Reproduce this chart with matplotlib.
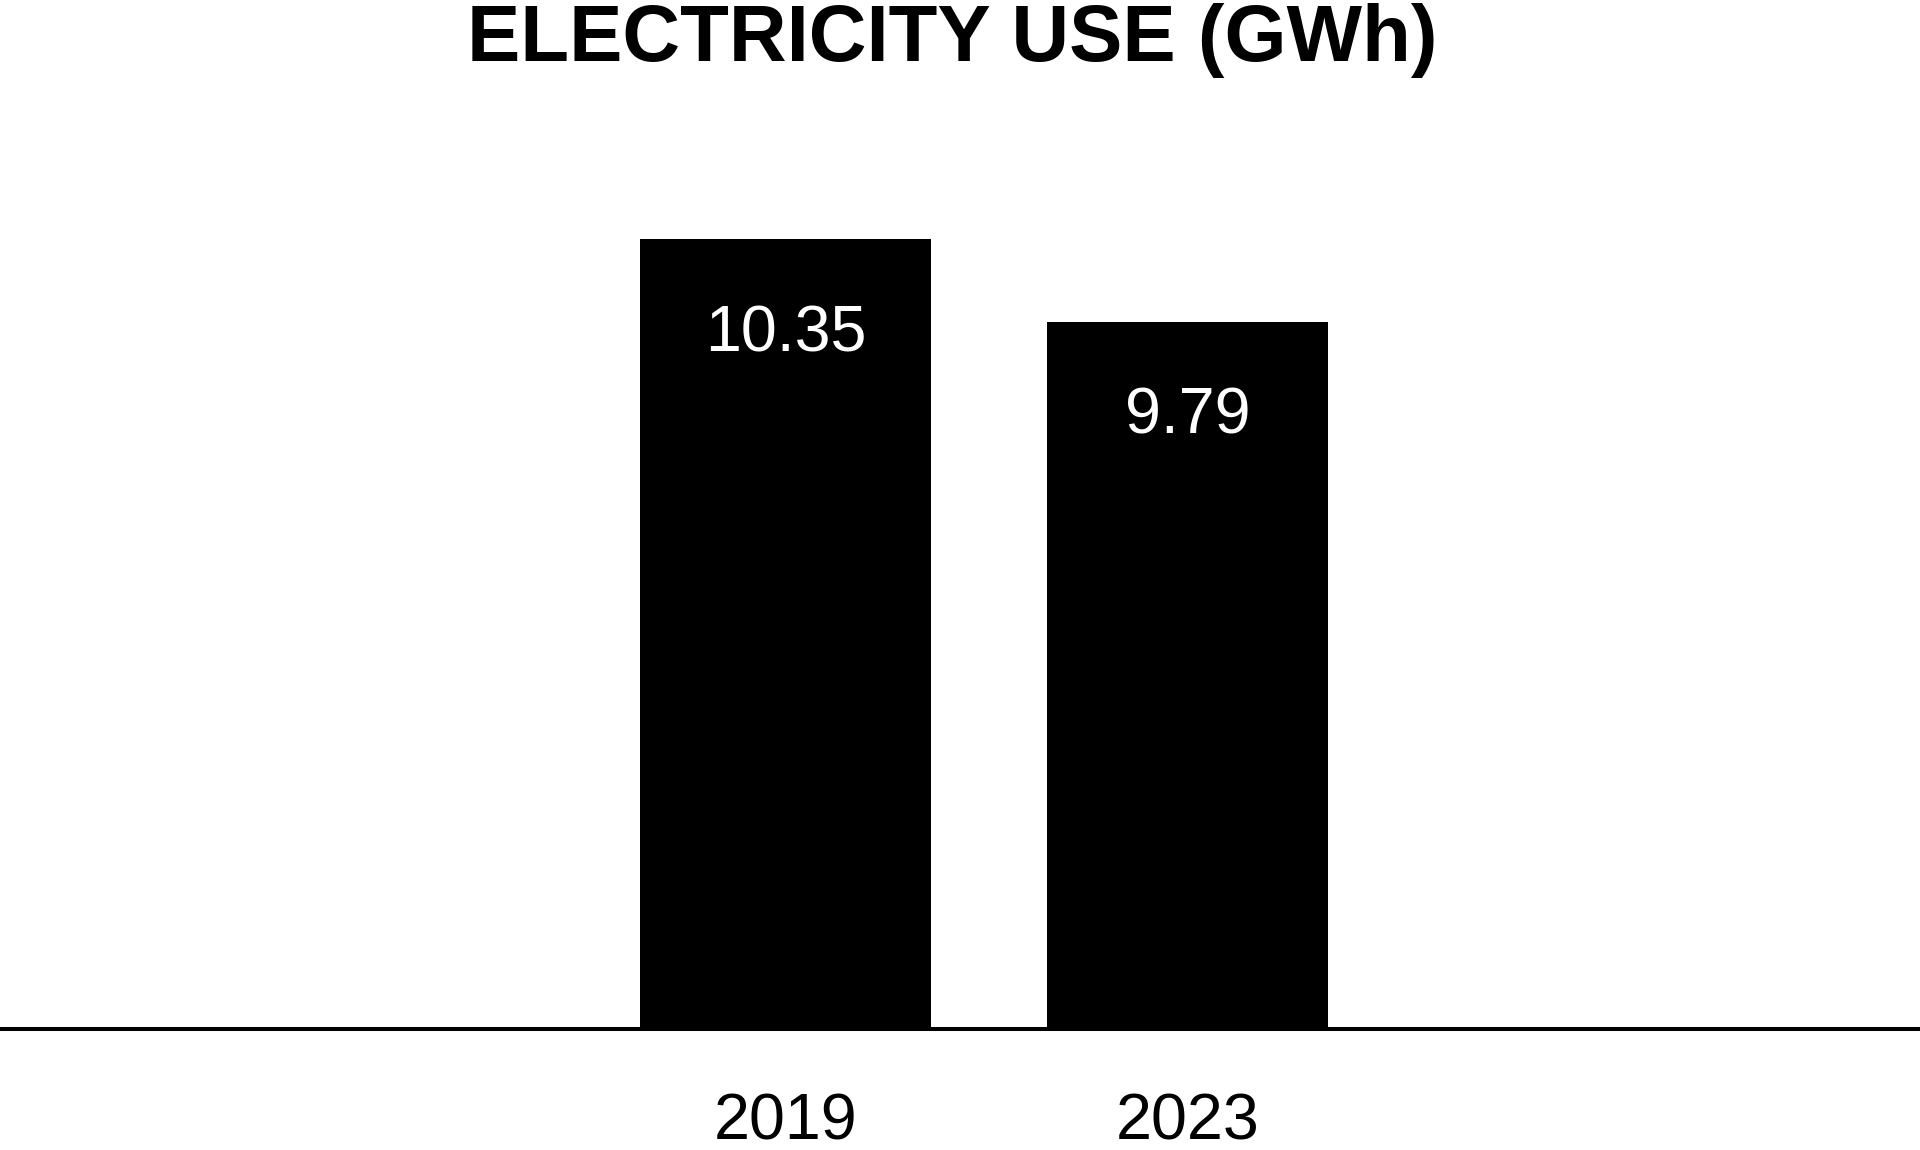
import matplotlib.pyplot as plt

years = ['2019', '2023']
usage_gwh = [10.35, 9.79]

plt.rcParams['font.family'] = ['Liberation Sans', 'DejaVu Sans']

fig = plt.figure(figsize=(19.2, 11.5), dpi=100)
ax = fig.add_axes([0, 0.1048, 1, 0.8082])

x = list(range(len(years)))
bars = ax.bar(x, usage_gwh, width=[0.724, 0.70], color='black', zorder=2)

for rect, val in zip(bars, usage_gwh):
    ax.annotate(f'{val:.2f}', (rect.get_x() + rect.get_width() / 2, val),
                xytext=(0, -80.6), textcoords='offset points',
                ha='center', va='baseline', color='white', fontsize=46.5)

ax.set_xlim(-1.954, 2.822)
ax.set_ylim(5, 11.293)

ax.set_xticks(x)
ax.set_xticklabels(years, fontsize=46.5)
for lbl in ax.get_xticklabels():
    lbl.set_verticalalignment('baseline')
ax.tick_params(axis='x', length=0, pad=79)
ax.set_yticks([])

for side in ['top', 'left', 'right']:
    ax.spines[side].set_visible(False)
ax.spines['bottom'].set_linewidth(2.9)
ax.spines['bottom'].set_zorder(3)

fig.text(0.496, 1 - 61 / 1150, 'ELECTRICITY USE (GWh)', ha='center',
         va='baseline', fontsize=57.5, fontweight='bold')

fig.savefig('out.png', dpi=100, facecolor='white')
